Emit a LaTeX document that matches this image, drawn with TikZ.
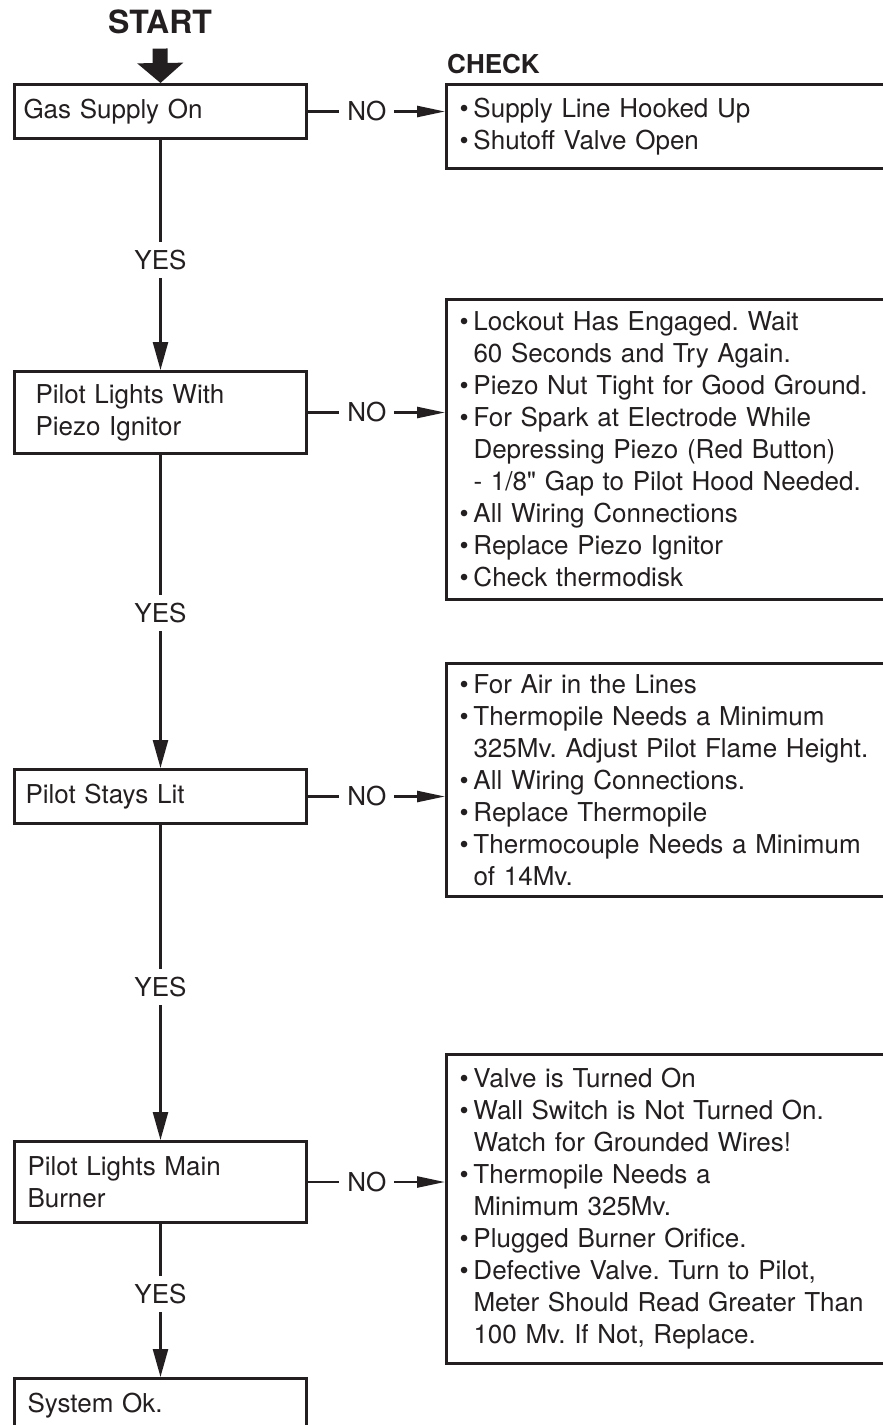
\documentclass[tikz,border=0pt]{standalone}
\usepackage{fontspec}
\setmainfont{TeX Gyre Heros}
\usepackage{xcolor}
\usetikzlibrary{arrows.meta}
\definecolor{ink}{HTML}{231F20}
\frenchspacing
\newcommand{\bitem}{\makebox[14pt][l]{\textbullet}}
\newcommand{\bcont}{\hspace*{14pt}}
\tikzstyle{mainbox} = [rectangle, draw=ink, line width=3pt, anchor=north west, text width=274pt, inner xsep=9pt, align=left, text=ink, font=\fontsize{26}{32}\selectfont]
\tikzstyle{chkbox} = [rectangle, draw=ink, line width=3pt, anchor=north west, text width=440pt, inner xsep=13pt, align=left, text=ink, font=\fontsize{26}{32}\selectfont]
\tikzstyle{title} = [anchor=base, inner sep=0pt, text=ink, font=\fontsize{32}{38}\selectfont\bfseries]
\tikzstyle{lbl} = [fill=white, inner xsep=8pt, inner ysep=8pt, text=ink, font=\fontsize{26}{32}\selectfont]
\tikzstyle{arrow} = [draw=ink, line width=2.5pt, -{Triangle[length=28pt,width=15pt]}]
\tikzstyle{noarrow} = [draw=ink, line width=2.5pt, -{Triangle[length=28pt,width=11pt]}]
\tikzstyle{startarrow} = [draw=ink, line width=15pt, -{Triangle[length=20pt,width=45pt]}]

\begin{document}
\begin{tikzpicture}[x=1pt, y=-1pt]
        \useasboundingbox (0,0) rectangle (883,1425);
        \clip (0,0) rectangle (883,1425);

        % Nodes
        \node (start) [title] at (160,33) {START};
        \node (check) [title, anchor=base west, font=\fontsize{26}{32}\selectfont\bfseries] at (447,73) {CHECK};
        \node (gas) [mainbox, minimum height=54pt] at (13,83) {Gas Supply On};
        \node (piezo) [mainbox, minimum height=82pt] at (13,370) {\hspace*{12pt}Pilot Lights With\\\hspace*{12pt}Piezo Ignitor};
        \node (lit) [mainbox, minimum height=54pt] at (13,768) {\hspace*{2pt}Pilot Stays Lit};
        \node (burner) [mainbox, minimum height=81pt] at (13,1140) {\hspace*{4pt}Pilot Lights Main\\\hspace*{4pt}Burner};
        \node (sysok) [mainbox, minimum height=54pt] at (13,1377) {\hspace*{4pt}System Ok.};

        \node (chkgas) [chkbox, minimum height=84pt] at (445,83) {\bitem Supply Line Hooked Up\\\bitem Shutoff Valve Open};
        \node (chkpiezo) [chkbox, minimum height=300pt] at (445,298) {\bitem Lockout Has Engaged. Wait\\\bcont 60 Seconds and Try Again.\\\bitem Piezo Nut Tight for Good Ground.\\\bitem For Spark at Electrode While\\\bcont Depressing Piezo (Red Button)\\\bcont - 1/8\textquotedbl{} Gap to Pilot Hood Needed.\\\bitem All Wiring Connections\\\bitem Replace Piezo Ignitor\\\bitem Check thermodisk};
        \node (chklit) [chkbox, minimum height=233pt] at (445,662) {\bitem For Air in the Lines\\\bitem Thermopile Needs a Minimum\\\bcont 325Mv. Adjust Pilot Flame Height.\\\bitem All Wiring Connections.\\\bitem Replace Thermopile\\\bitem Thermocouple Needs a Minimum\\\bcont of 14Mv.};
        \node (chkburner) [chkbox, minimum height=309pt] at (445,1053) {\bitem Valve is Turned On\\\bitem Wall Switch is Not Turned On.\\\bcont Watch for Grounded Wires!\\\bitem Thermopile Needs a\\\bcont Minimum 325Mv.\\\bitem Plugged Burner Orifice.\\\bitem Defective Valve. Turn to Pilot,\\\bcont Meter Should Read Greater Than\\\bcont 100 Mv. If Not, Replace.};

        % Arrows
        \draw [startarrow] ([yshift=-15pt]start.south) -- (gas.north);
        \draw [arrow] (gas) -- node[lbl, pos=0.52] {YES} (piezo);
        \draw [arrow] (piezo) -- node[lbl, pos=0.506] {YES} (lit);
        \draw [arrow] (lit) -- node[lbl, pos=0.513] {YES} (burner);
        \draw [arrow] (burner) -- node[lbl, pos=0.455] {YES} (sysok);
        \draw [noarrow] (gas.east) -- node[lbl, pos=0.43] {NO} (chkgas.west |- gas.east);
        \draw [noarrow] (piezo.east) -- node[lbl, pos=0.43] {NO} (chkpiezo.west |- piezo.east);
        \draw [noarrow] (lit.east) -- node[lbl, pos=0.43] {NO} (chklit.west |- lit.east);
        \draw [noarrow] (burner.east) -- node[lbl, pos=0.43] {NO} (chkburner.west |- burner.east);
    \end{tikzpicture}
\end{document}
